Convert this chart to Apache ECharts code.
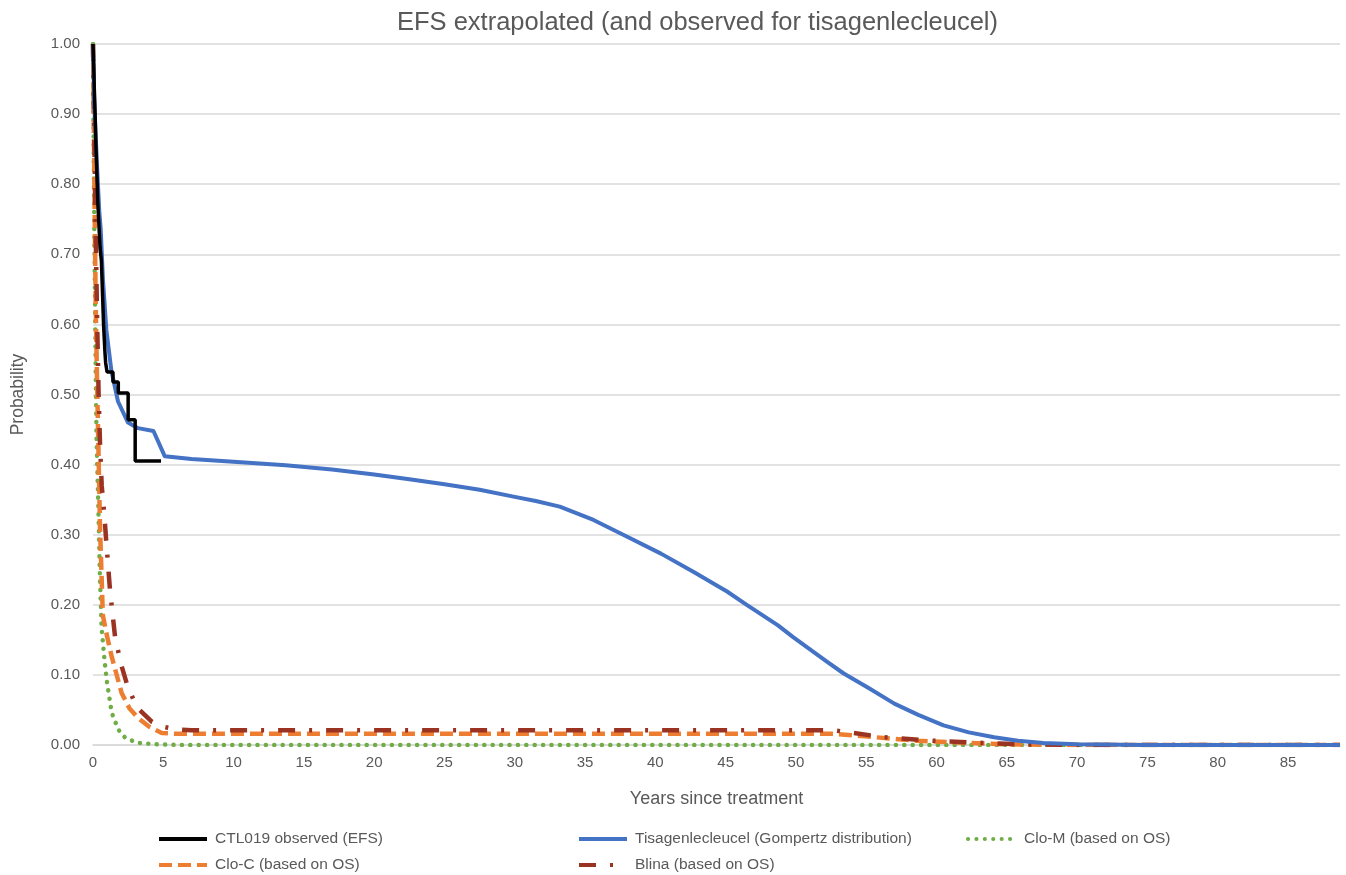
<!DOCTYPE html>
<html>
<head>
<meta charset="utf-8">
<script src="https://cdn.jsdelivr.net/npm/echarts@6/dist/echarts.min.js"></script>
<style>
html,body{margin:0;padding:0;background:#fff;}
#chart{width:1346px;height:875px;}
</style>
</head>
<body>
<div id="chart"></div>
<script>
// ---- Data ----
const xTicks = [0,5,10,15,20,25,30,35,40,45,50,55,60,65,70,75,80,85];
const yTicks = [0,0.1,0.2,0.3,0.4,0.5,0.6,0.7,0.8,0.9,1.0];

// Kaplan-Meier steps: value holds from x until the next x
const ctlX = [0,0.05,0.1,0.15,0.2,0.25,0.3,0.35,0.4,0.45,0.5,0.6,0.65,0.7,0.75,0.8,0.85,0.9,1.0,1.42,1.8,2.5,3.0,4.84];
const ctlY = [1.0,0.97,0.93,0.9,0.86,0.83,0.8,0.77,0.75,0.73,0.71,0.69,0.66,0.63,0.6,0.58,0.56,0.545,0.532,0.518,0.502,0.464,0.405,0.405];

const tisaX = [0,0.1,0.3,0.45,0.55,0.71,0.95,1.3,1.78,2.49,3.2,4.3,5.1,7,10,13.7,17,20,22.5,25,27.5,30,31.5,33.2,35.6,38,40.4,42.7,45.1,46.5,48.7,49.8,52.2,53.4,55.2,57,58.7,60.5,62.3,64.1,65.8,67.6,70,75,88.7];
const tisaY = [1.0,0.91,0.82,0.76,0.735,0.663,0.592,0.535,0.49,0.46,0.452,0.448,0.412,0.408,0.404,0.399,0.393,0.386,0.379,0.372,0.364,0.354,0.348,0.34,0.321,0.297,0.273,0.247,0.219,0.2,0.171,0.154,0.119,0.102,0.081,0.059,0.043,0.028,0.018,0.011,0.006,0.003,0.001,0,0];

const cloMX = [0,0.05,0.1,0.15,0.2,0.25,0.38,0.5,0.62,0.8,0.97,1.33,1.8,2.3,3.2,4.5,6,88.7];
const cloMY = [1.0,0.85,0.72,0.62,0.52,0.44,0.34,0.235,0.165,0.125,0.093,0.046,0.022,0.01,0.003,0.001,0,0];

const cloCX = [0,0.05,0.1,0.15,0.2,0.28,0.36,0.5,0.7,1.0,1.33,2.04,2.6,3.23,4.0,4.89,6,52.7,55.1,58.6,62.2,65,70,88.7];
const cloCY = [1.0,0.9,0.8,0.7,0.62,0.53,0.45,0.31,0.185,0.155,0.126,0.074,0.052,0.038,0.026,0.017,0.016,0.016,0.012,0.006,0.003,0.001,0,0];

const blinaX = [0,0.05,0.1,0.15,0.2,0.3,0.4,0.5,0.62,0.8,0.97,1.21,1.57,2.0,2.4,3.1,4.2,5,6,7,52.7,56.3,59.8,63.3,66,70,88.7];
const blinaY = [1.0,0.93,0.86,0.78,0.72,0.6,0.5,0.43,0.37,0.33,0.283,0.221,0.154,0.115,0.088,0.054,0.033,0.026,0.022,0.021,0.021,0.011,0.006,0.003,0.001,0,0];

const seriesNames = ['CTL019 observed (EFS)','Tisagenlecleucel (Gompertz distribution)','Clo-M (based on OS)','Clo-C (based on OS)','Blina (based on OS)'];

function pairs(xs, ys){ return xs.map((x,i)=>[x, ys[i]]); }

const txt = '#595959';
const font = 'Liberation Sans, Arial, sans-serif';

const chart = echarts.init(document.getElementById('chart'), null, {renderer:'canvas'});

function legendAt(name, left, top){
  return {
    data:[name], left:left, top:top, padding:0, itemWidth:48, itemHeight:14, itemGap:0,
    textStyle:{color:txt, fontSize:15.5, fontFamily:font, padding:[0,0,0,3]},
    itemStyle:{opacity:0},
    lineStyle:{width:4, opacity:1}
  };
}

chart.setOption({
  animation:false,
  backgroundColor:'#ffffff',
  title:{
    text:'EFS extrapolated (and observed for tisagenlecleucel)',
    left:392, top:5,
    textStyle:{color:txt, fontSize:25.5, fontWeight:'normal', fontFamily:font}
  },
  legend:[
    legendAt(seriesNames[0],157,831),
    legendAt(seriesNames[1],577,831),
    legendAt(seriesNames[2],966,831),
    legendAt(seriesNames[3],157,857),
    legendAt(seriesNames[4],577,857)
  ],
  grid:{left:93, right:6, top:44, bottom:130, containLabel:false},
  xAxis:{
    type:'value', min:0, max:88.7, interval:5,
    name:'Years since treatment', nameLocation:'middle', nameGap:45,
    nameTextStyle:{color:txt, fontSize:18, fontFamily:font},
    axisLine:{show:true, lineStyle:{color:'#d9d9d9', width:1.5}},
    axisTick:{show:false},
    splitLine:{show:false},
    axisLabel:{color:txt, fontSize:15, fontFamily:font, margin:10, showMaxLabel:false,
      formatter:function(v){ return xTicks.indexOf(v)>=0 ? String(v) : ''; }}
  },
  yAxis:{
    type:'value', min:0, max:1, interval:0.1,
    name:'Probability', nameLocation:'middle', nameGap:66,
    nameTextStyle:{color:txt, fontSize:17.5, fontFamily:font},
    axisLine:{show:false}, axisTick:{show:false},
    splitLine:{show:true, lineStyle:{color:'#d9d9d9', width:1.5}},
    axisLabel:{color:txt, fontSize:15, fontFamily:font, margin:13,
      formatter:function(v){ return v.toFixed(2); }}
  },
  series:[
    {name:seriesNames[0], type:'line', step:'end', showSymbol:false, symbol:'none',
     data:pairs(ctlX, ctlY), z:5,
     lineStyle:{color:'#000000', width:3.5}, itemStyle:{color:'#000000'}},
    {name:seriesNames[1], type:'line', showSymbol:false, symbol:'none',
     data:pairs(tisaX, tisaY), z:4,
     lineStyle:{color:'#4472C4', width:4, join:'round'}, itemStyle:{color:'#4472C4'}},
    {name:seriesNames[2], type:'line', showSymbol:false, symbol:'none',
     data:pairs(cloMX, cloMY), z:3,
     lineStyle:{color:'#70AD47', width:4.5, type:[0.1,8.3], cap:'round'}, itemStyle:{color:'#70AD47'}},
    {name:seriesNames[3], type:'line', showSymbol:false, symbol:'none',
     data:pairs(cloCX, cloCY), z:3,
     lineStyle:{color:'#ED7D31', width:4.5, type:[13,6]}, itemStyle:{color:'#ED7D31'}},
    {name:seriesNames[4], type:'line', showSymbol:false, symbol:'none',
     data:pairs(blinaX, blinaY), z:3,
     lineStyle:{color:'#9B3322', width:4.5, type:[17,14,3,14]}, itemStyle:{color:'#9B3322'}}
  ]
});
</script>
</body>
</html>
